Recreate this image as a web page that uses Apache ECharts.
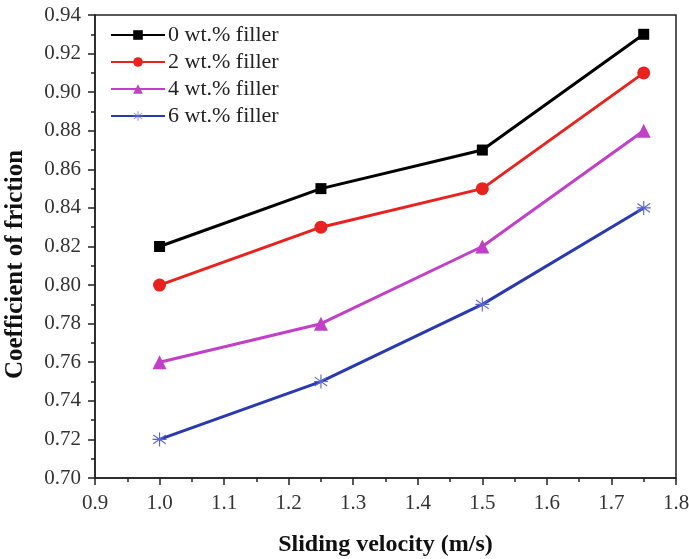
<!DOCTYPE html>
<html>
<head>
<meta charset="utf-8">
<script src="https://cdn.jsdelivr.net/npm/echarts@6/dist/echarts.min.js"></script>
<style>
  html, body { margin: 0; padding: 0; background: #fff; }
  #main { width: 689px; height: 559px; }
</style>
</head>
<body>
<div id="main"></div>
<script>
// sliding velocity (m/s)
var velocity = [1.0, 1.25, 1.5, 1.75];
// coefficient of friction per filler loading
var filler0 = [0.82, 0.85, 0.87, 0.93];
var filler2 = [0.80, 0.83, 0.85, 0.91];
var filler4 = [0.76, 0.78, 0.82, 0.88];
var filler6 = [0.72, 0.75, 0.79, 0.84];
var seriesNames = ['0 wt.% filler', '2 wt.% filler', '4 wt.% filler', '6 wt.% filler'];

var FONT = 'Liberation Serif';
// asterisk marker made of thin bars
var asterisk = 'path://M9.2,0 L10.8,0 L10.8,20 L9.2,20 Z M0.6,4.4 L1.4,3 L19.4,15.6 L18.6,17 Z M18.6,3 L19.4,4.4 L1.4,17 L0.6,15.6 Z M0,9.2 L20,9.2 L20,10.8 L0,10.8 Z';

function pairs(ys) {
    var out = [];
    for (var i = 0; i < velocity.length; i++) {
        out.push([velocity[i], ys[i]]);
    }
    return out;
}

function makeSeries(name, ys, color, symbol, size, markColor) {
    return {
        name: name,
        type: 'line',
        data: pairs(ys),
        symbol: symbol,
        symbolSize: size,
        showAllSymbol: true,
        lineStyle: { color: color, width: 3 },
        itemStyle: { color: markColor || color },
        emphasis: { disabled: true }
    };
}

var chart = echarts.init(document.getElementById('main'), null, { renderer: 'canvas' });

var tickStyle = { color: '#222', width: 1.5 };

var option = {
    animation: false,
    grid: {
        left: 95, right: 13, top: 15, bottom: 81,
        outerBoundsMode: 'none',
        containLabel: false,
        show: true, borderColor: '#222', borderWidth: 1.5
    },
    legend: {
        orient: 'vertical',
        left: 105, top: 19,
        itemWidth: 54, itemHeight: 12, itemGap: 5,
        data: seriesNames,
        textStyle: { fontFamily: FONT, fontSize: 22, color: '#222', padding: [0, 0, 0, -2] }
    },
    xAxis: {
        type: 'value',
        min: 0.9, max: 1.8, interval: 0.1,
        name: 'Sliding velocity (m/s)',
        nameLocation: 'middle', nameGap: 55,
        nameTextStyle: { fontFamily: FONT, fontSize: 24, fontWeight: 'bold', color: '#111' },
        axisLine: { onZero: false, lineStyle: tickStyle },
        axisTick: { inside: false, length: 7, lineStyle: tickStyle },
        minorTick: { show: true, splitNumber: 2, length: 4, lineStyle: tickStyle },
        axisLabel: {
            fontFamily: FONT, fontSize: 21, color: '#333', margin: 15,
            formatter: function (v) { return v.toFixed(1); }
        },
        splitLine: { show: false }
    },
    yAxis: {
        type: 'value',
        min: 0.70, max: 0.94, interval: 0.02,
        name: 'Coefficient of friction',
        nameLocation: 'middle', nameGap: 67,
        nameTextStyle: {
            fontFamily: FONT, fontSize: 25, fontWeight: 'bold', color: '#111',
            padding: [0, 36, 0, 0]
        },
        axisLine: { onZero: false, lineStyle: tickStyle },
        axisTick: { inside: false, length: 7, lineStyle: tickStyle },
        minorTick: { show: true, splitNumber: 2, length: 4, lineStyle: tickStyle },
        axisLabel: {
            fontFamily: FONT, fontSize: 21, color: '#333', margin: 14,
            formatter: function (v) { return v.toFixed(2); }
        },
        splitLine: { show: false }
    },
    series: [
        makeSeries(seriesNames[0], filler0, '#000000', 'rect', 11),
        makeSeries(seriesNames[1], filler2, '#e8231f', 'circle', 13),
        makeSeries(seriesNames[2], filler4, '#c23fc8', 'triangle', 14),
        makeSeries(seriesNames[3], filler6, '#2b39b0', asterisk, 14, '#5a66d0')
    ]
};

chart.setOption(option);
</script>
</body>
</html>
